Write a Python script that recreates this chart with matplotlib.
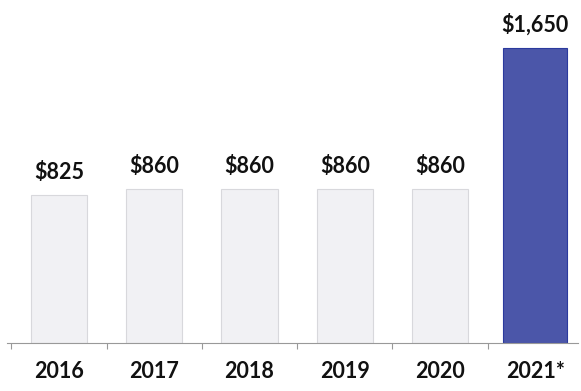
import matplotlib.pyplot as plt
import numpy as np

years = ['2016', '2017', '2018', '2019', '2020', '2021*']
values = [825, 860, 860, 860, 860, 1650]
labels = ['$825', '$860', '$860', '$860', '$860', '$1,650']

plt.rcParams['font.family'] = ['Lato', 'DejaVu Sans']

fig = plt.figure(figsize=(5.81, 3.91), dpi=100)
ax = fig.add_axes([0, 48 / 391, 1, 343 / 391])

x = np.arange(len(years))
face = ['#f1f1f4'] * 5 + ['#4b56a9']
edge = ['#d8d8dc'] * 5 + ['#2b3a9e']
widths = [0.59] * 5 + [0.67]
bars = ax.bar(x, values, width=widths, color=face, edgecolor=edge, linewidth=0.8)

for b, lab in zip(bars, labels):
    ax.text(b.get_x() + b.get_width() / 2, b.get_height() + 70, lab,
            ha='center', va='bottom', fontsize=15.5, fontweight='bold', color='#111111')

ax.set_xlim(-0.62, 5.48)
ax.set_ylim(0, 1918)
ax.set_xticks(x)
ax.set_xticklabels(years, fontsize=15.5, fontweight='bold', color='#111111')
ax.set_xticks(np.arange(-0.5, 5.0, 1.0), minor=True)
ax.tick_params(axis='x', which='major', length=0, pad=13)
ax.tick_params(axis='x', which='minor', length=4, width=0.8, color='#999999')
ax.set_yticks([])

for s in ['top', 'right', 'left']:
    ax.spines[s].set_visible(False)
ax.spines['bottom'].set_color('#999999')
ax.spines['bottom'].set_linewidth(0.8)
ax.spines['bottom'].set_bounds(-0.55, 5.45)

fig.savefig('out.png', dpi=100)
